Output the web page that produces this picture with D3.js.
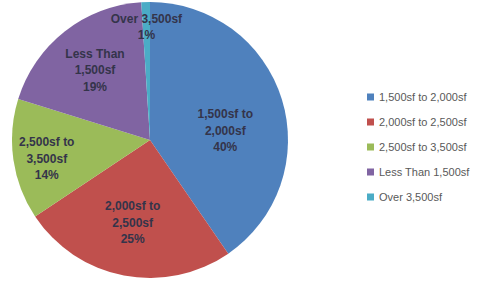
<!DOCTYPE html>
<html>
<head>
<meta charset="utf-8">
<script src="https://cdn.jsdelivr.net/npm/d3@7"></script>
<style>
    html, body {margin: 0; padding: 0; background: #fff;}
    svg {display: block;}
</style>
</head>
<body>
<svg id="chart" width="486" height="281"></svg>
<script>
const categories = ["1,500sf to 2,000sf", "2,000sf to 2,500sf", "2,500sf to 3,500sf", "Less Than 1,500sf", "Over 3,500sf"]
const shares = [40, 25, 14, 19, 1]
const labelLines = [["1,500sf to", "2,000sf"], ["2,000sf to", "2,500sf"], ["2,500sf to", "3,500sf"], ["Less Than", "1,500sf"], ["Over 3,500sf"]]
const colors = ["#4F81BD", "#C0504D", "#9BBB59", "#8064A2", "#4BACC6"]

// where excel put each data label: fraction of radius, nudge in degrees
const labelRadius = [0.55, 0.61, 0.76, 0.645, 0.82]
const labelNudge = [10, 1, -2, 0, 0]

const width = 486
const height = 281
const radius = 138
const cx = 150
const cy = 140

const data = categories.map((c, i) => ({name: c, value: shares[i], lines: labelLines[i], color: colors[i], idx: i}))

const svg = d3.select("#chart")

const pie = d3.pie()
    .sort(null)
    .value(d => d.value)

const arc = d3.arc()
    .innerRadius(0)
    .outerRadius(radius)

const g = svg.append("g")
    .attr("transform", "translate(" + cx + "," + cy + ")")

const arcs = pie(data)

g.selectAll("path")
    .data(arcs)
    .enter()
    .append("path")
    .attr("d", arc)
    .style("fill", d => d.data.color)

// data labels
arcs.forEach(d => {
    const i = d.data.idx
    const mid = (d.startAngle + d.endAngle) / 2 + labelNudge[i] * Math.PI / 180
    const r = radius * labelRadius[i]
    const x = Math.sin(mid) * r
    const y = -Math.cos(mid) * r
    const lines = d.data.lines.concat([d.data.value + "%"])
    const lineH = 16.5
    const top = y - (lines.length - 1) * lineH / 2
    const t = g.append("text")
        .attr("text-anchor", "middle")
        .style("font-family", "'Liberation Sans', Arial, sans-serif")
        .style("font-size", "12px")
        .style("font-weight", "bold")
        .style("fill", "#34344a")
    lines.forEach((l, k) => {
        t.append("tspan")
            .attr("x", x)
            .attr("y", top + k * lineH)
            .attr("dy", "0.35em")
            .text(l)
    })
})

// legend
const legend = svg.append("g")
    .attr("transform", "translate(367,97)")

const rows = legend.selectAll("g")
    .data(data)
    .enter()
    .append("g")
    .attr("transform", (d, i) => "translate(0," + i * 25 + ")")

rows.append("rect")
    .attr("x", 0)
    .attr("y", -3.5)
    .attr("width", 7)
    .attr("height", 7)
    .style("fill", d => d.color)

rows.append("text")
    .attr("x", 12)
    .attr("y", 0)
    .attr("dy", "0.35em")
    .style("font-family", "'Liberation Sans', Arial, sans-serif")
    .style("font-size", "11px")
    .style("fill", "#595959")
    .text(d => d.name)
</script>
</body>
</html>
